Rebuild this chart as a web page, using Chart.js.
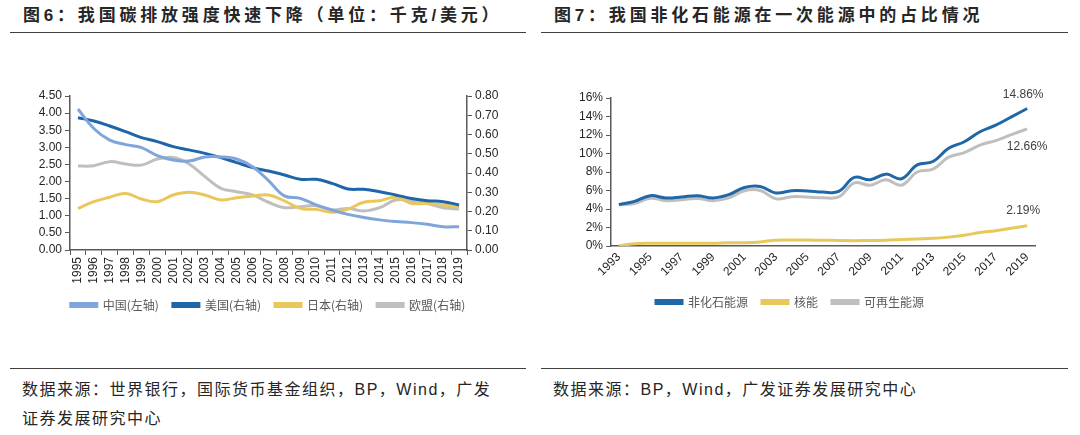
<!DOCTYPE html>
<html>
<head>
<meta charset="utf-8">
<script src="https://cdn.jsdelivr.net/npm/chart.js@4.4.1/dist/chart.umd.min.js"></script>
<style>
  body { margin: 0; width: 1080px; height: 435px; background: #fff; position: relative; overflow: hidden;
         font-family: "Liberation Sans", "Noto Sans CJK SC", sans-serif; color: #262626; }
  .title { position: absolute; top: 5px; font-size: 17px; font-weight: bold; letter-spacing: 3.8px; line-height: 22px; white-space: nowrap; }
  .rule { position: absolute; height: 0; border-top: 1.5px solid #404040; }
  .source { position: absolute; top: 375px; font-size: 16px; letter-spacing: 1.5px; line-height: 29px; }
  canvas { position: absolute; }
</style>
</head>
<body>
<div class="title" style="left:23px">图6：我国碳排放强度快速下降（单位：千克/美元）</div>
<div class="rule" style="left:10px; width:516px; top:32px"></div>
<div class="title" style="left:554px">图7：我国非化石能源在一次能源中的占比情况</div>
<div class="rule" style="left:541px; width:527px; top:32px"></div>

<div id="box1" style="position:absolute; left:10px; top:60px; width:516px; height:269px"><canvas id="chartIntensity"></canvas></div>
<div id="box2" style="position:absolute; left:545px; top:60px; width:510px; height:266px"><canvas id="chartNonFossil"></canvas></div>

<div class="rule" style="left:10px; width:516px; top:368px"></div>
<div class="source" style="left:22px">数据来源：世界银行，国际货币基金组织，BP，Wind，广发<br>证券发展研究中心</div>
<div class="rule" style="left:541px; width:527px; top:368px"></div>
<div class="source" style="left:553px">数据来源：BP，Wind，广发证券发展研究中心</div>

<script>
// ---- 图6 数据 (千克/美元) ----
const years6 = ['1995','1996','1997','1998','1999','2000','2001','2002','2003','2004','2005','2006','2007',
                '2008','2009','2010','2011','2012','2013','2014','2015','2016','2017','2018','2019'];
const chinaData = [4.12, 3.55, 3.21, 3.08, 2.99, 2.76, 2.63, 2.60, 2.72, 2.72, 2.66, 2.43, 2.03,
                   1.58, 1.51, 1.32, 1.17, 1.04, 0.95, 0.88, 0.83, 0.80, 0.75, 0.68, 0.68];
const usaData = [0.687, 0.670, 0.644, 0.615, 0.584, 0.563, 0.537, 0.520, 0.502, 0.480, 0.454, 0.428, 0.410,
                 0.390, 0.367, 0.367, 0.346, 0.317, 0.315, 0.303, 0.286, 0.268, 0.256, 0.251, 0.234];
const japanData = [0.216, 0.251, 0.274, 0.294, 0.265, 0.251, 0.286, 0.300, 0.286, 0.260, 0.272, 0.280, 0.286,
                   0.255, 0.216, 0.211, 0.196, 0.213, 0.248, 0.256, 0.274, 0.242, 0.242, 0.234, 0.222];
const euData = [0.436, 0.438, 0.459, 0.447, 0.441, 0.473, 0.480, 0.447, 0.381, 0.320, 0.303, 0.286, 0.248,
                0.220, 0.225, 0.230, 0.208, 0.216, 0.203, 0.220, 0.260, 0.255, 0.242, 0.220, 0.213];

// ---- 图7 数据 (%) ----
const years7 = ['1993','1994','1995','1996','1997','1998','1999','2000','2001','2002','2003','2004','2005','2006',
                '2007','2008','2009','2010','2011','2012','2013','2014','2015','2016','2017','2018','2019'];
const nonFossilData = [4.47, 4.83, 5.44, 5.19, 5.30, 5.44, 5.19, 5.55, 6.33, 6.44, 5.73, 5.98, 5.95, 5.83,
                       5.90, 7.41, 7.16, 7.77, 7.27, 8.77, 9.13, 10.56, 11.27, 12.35, 13.06, 13.96, 14.86];
const nuclearData = [0.00, 0.25, 0.29, 0.29, 0.30, 0.30, 0.30, 0.35, 0.35, 0.44, 0.63, 0.65, 0.65, 0.62,
                     0.60, 0.58, 0.60, 0.62, 0.70, 0.77, 0.83, 0.96, 1.17, 1.45, 1.66, 1.92, 2.19];
const renewData = [4.47, 4.58, 5.15, 4.90, 5.00, 5.14, 4.89, 5.20, 5.98, 6.00, 5.10, 5.33, 5.30, 5.21,
                   5.30, 6.83, 6.56, 7.15, 6.57, 8.00, 8.30, 9.60, 10.10, 10.90, 11.40, 12.04, 12.66];
const endLabels = ['14.86%', '2.19%', '12.66%'];

const tickFont = { family: 'Liberation Sans', size: 12 };
const legendFont = { family: 'Noto Sans CJK SC', size: 12 };
const axisColor = '#595959';

function lineSet(label, data, color, axis) {
    return {
        label: label,
        data: data,
        borderColor: color,
        backgroundColor: color,
        borderWidth: 3,
        pointRadius: 0,
        tension: 0.4,
        yAxisID: axis
    };
}

function fixWidth(w) { return function(scale) { scale.width = w; }; }
function fixHeight(h) { return function(scale) { scale.height = h; }; }

const legendOpts = {
    position: 'bottom',
    labels: { boxWidth: 26, boxHeight: 3, font: legendFont, color: '#595959', padding: 14 }
};

// 图6
new Chart(document.getElementById('chartIntensity'), {
    type: 'line',
    data: {
        labels: years6,
        datasets: [
            lineSet('中国(左轴)', chinaData, '#7FA5DA', 'y'),
            lineSet('美国(右轴)', usaData, '#1F66A8', 'y1'),
            lineSet('日本(右轴)', japanData, '#E9C75B', 'y1'),
            lineSet('欧盟(右轴)', euData, '#BFBFBF', 'y1')
        ]
    },
    options: {
        responsive: true,
        maintainAspectRatio: false,
        animation: false,
        layout: { padding: { top: 36, bottom: 8 } },
        plugins: { legend: legendOpts, tooltip: { enabled: false } },
        scales: {
            x: {
                offset: true,
                afterFit: fixHeight(35),
                grid: { display: true, offset: true, drawOnChartArea: false, tickLength: 5, color: axisColor },
                border: { color: axisColor, width: 1.5 },
                ticks: { autoSkip: false, minRotation: 90, maxRotation: 90, font: tickFont, color: '#262626', padding: 2 }
            },
            y: {
                position: 'left',
                min: 0, max: 4.5,
                afterFit: fixWidth(60),
                grid: { drawOnChartArea: false, tickLength: 5, color: axisColor },
                border: { color: axisColor, width: 1.5 },
                ticks: { stepSize: 0.5, autoSkip: false, font: tickFont, color: '#262626', padding: 3,
                         callback: function(v) { return v.toFixed(2); } }
            },
            y1: {
                position: 'right',
                min: 0, max: 0.8,
                afterFit: fixWidth(59),
                grid: { drawOnChartArea: false, tickLength: 5, color: axisColor },
                border: { color: axisColor, width: 1.5 },
                ticks: { stepSize: 0.1, autoSkip: false, font: tickFont, color: '#262626', padding: 3,
                         callback: function(v) { return v.toFixed(2); } }
            }
        }
    }
});

// 末端数值标签
const endLabelPlugin = {
    id: 'endLabels',
    afterDatasetsDraw(chart) {
        const ctx = chart.ctx;
        const offsets = [[-4, -14], [-4, -15], [0, 18]];
        ctx.save();
        ctx.font = '12px "Liberation Sans"';
        ctx.fillStyle = '#404040';
        ctx.textAlign = 'center';
        ctx.textBaseline = 'middle';
        chart.data.datasets.forEach((ds, i) => {
            const meta = chart.getDatasetMeta(i);
            const pt = meta.data[meta.data.length - 1];
            ctx.fillText(endLabels[i], pt.x + offsets[i][0], pt.y + offsets[i][1]);
        });
        ctx.restore();
    }
};

// 图7
new Chart(document.getElementById('chartNonFossil'), {
    type: 'line',
    data: {
        labels: years7,
        datasets: [
            lineSet('非化石能源', nonFossilData, '#2067A8', 'y'),
            lineSet('核能', nuclearData, '#E9C75B', 'y'),
            lineSet('可再生能源', renewData, '#BFBFBF', 'y')
        ]
    },
    plugins: [endLabelPlugin],
    options: {
        responsive: true,
        maintainAspectRatio: false,
        animation: false,
        layout: { padding: { top: 38, right: 20, bottom: 8 } },
        plugins: { legend: legendOpts, tooltip: { enabled: false } },
        scales: {
            x: {
                offset: true,
                afterFit: fixHeight(36),
                grid: { display: true, drawOnChartArea: false, drawTicks: false, color: axisColor },
                border: { color: axisColor, width: 1.5 },
                ticks: { autoSkip: false, minRotation: 45, maxRotation: 45, font: tickFont, color: '#262626', padding: 4,
                         callback: function(v, i) { return i % 2 === 0 ? years7[i] : ''; } }
            },
            y: {
                min: 0, max: 16,
                afterFit: fixWidth(66),
                grid: { drawOnChartArea: false, tickLength: 5, color: axisColor },
                border: { color: axisColor, width: 1.5 },
                ticks: { stepSize: 2, autoSkip: false, font: tickFont, color: '#262626', padding: 3,
                         callback: function(v) { return v + '%'; } }
            }
        }
    }
});
</script>
</body>
</html>
